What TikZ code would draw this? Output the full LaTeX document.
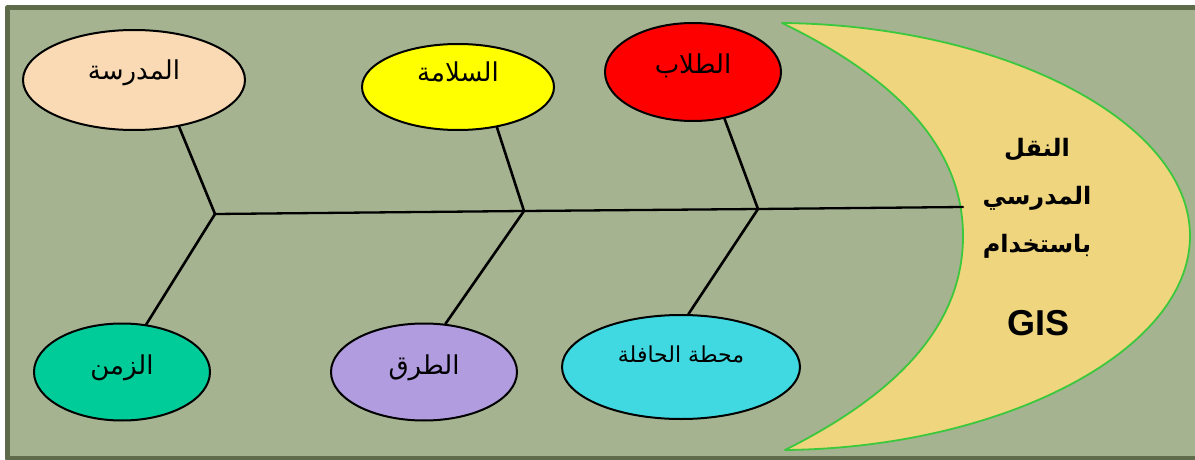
\documentclass[tikz,border=0pt]{standalone}
\usepackage{fontspec}
\setmainfont{Liberation Sans}
\newfontfamily\arabicfont[Script=Arabic]{DejaVu Sans}
\TeXXeTstate=1
\usetikzlibrary{shapes.geometric}
\definecolor{bgolive}{RGB}{165,179,145}
\definecolor{frameolive}{RGB}{95,107,74}
\definecolor{peach}{RGB}{249,218,180}
\definecolor{lemon}{RGB}{255,255,0}
\definecolor{scarlet}{RGB}{255,0,0}
\definecolor{lavender}{RGB}{177,156,224}
\definecolor{aqua}{RGB}{65,217,225}
\definecolor{seagreen}{RGB}{0,204,153}
\definecolor{sand}{RGB}{239,213,126}
\definecolor{limeline}{RGB}{60,200,60}
\newcommand{\ar}[1]{\arabicfont\beginR #1\endR}
\tikzset{
  oval/.style={ellipse, draw=black, line width=2pt, inner sep=0pt},
  lbl/.style={font=\fontsize{26}{30}\selectfont, inner sep=0pt},
  bone/.style={line width=2.6pt},
}
\begin{document}
\begin{tikzpicture}[x=1pt, y=-1pt, line join=round, line cap=round]
\useasboundingbox (0,0) rectangle (1195,460);
% frame
\draw[line width=5pt, draw=frameolive, fill=bgolive] (7,8) rectangle (1200,458);
% head
\draw[draw=limeline, line width=1.8pt, fill=sand] (782,23)
  .. controls (1000,25) and (1190,120) .. (1190,236)
  .. controls (1190,352) and (1000,448) .. (785,450)
  .. controls (905,390) and (963,320) .. (963,236)
  .. controls (963,150) and (900,80) .. (782,23) -- cycle;
\node[font=\fontsize{24}{48}\selectfont\bfseries, align=center] (head) at (1037,198)
  {\ar{النقل}\\ \ar{المدرسي}\\ \ar{باستخدام}};
\node[font=\fontsize{36}{40}\selectfont\bfseries] (gis) at (1038,323) {GIS};
% spine and joints
\coordinate (j1) at (215,214);
\coordinate (j2) at (524,211);
\coordinate (j3) at (758,209);
\coordinate (tail) at (963,207);
\draw[line width=2.3pt] (j1) -- (j2) -- (j3) -- (tail);
% causes
\node[oval, fill=peach, minimum width=222pt, minimum height=100pt] (school) at (134,80) {};
\node[oval, fill=lemon, minimum width=192pt, minimum height=86pt] (safety) at (458,87) {};
\node[oval, fill=scarlet, minimum width=176pt, minimum height=98pt] (pupils) at (693,72) {};
\node[oval, fill=seagreen, minimum width=176pt, minimum height=97pt] (time) at (122,372) {};
\node[oval, fill=lavender, minimum width=186pt, minimum height=97pt] (roads) at (424,372) {};
\node[oval, fill=aqua, minimum width=238pt, minimum height=104pt] (stop) at (681,367) {};
\node[lbl] (schoolT) at (134,73) {\ar{المدرسة}};
\node[lbl] (safetyT) at (458,72) {\ar{السلامة}};
\node[lbl] (pupilsT) at (693,66) {\ar{الطلاب}};
\node[lbl] (timeT) at (122,368) {\ar{الزمن}};
\node[lbl] (roadsT) at (424,368) {\ar{الطرق}};
\node[lbl, font=\fontsize{22}{26}\selectfont] (stopT) at (681,354) {\ar{محطة الحافلة}};
% bones
\draw[bone] (school.-46) -- (j1);
\draw[bone] (safety.-46) -- (j2);
\draw[bone] (pupils.-56) -- (j3);
\draw[bone] (time.63) -- (j1);
\draw[bone] (roads.66) -- (j2);
\draw[bone] (stop.82) -- (j3);
\end{tikzpicture}
\end{document}
